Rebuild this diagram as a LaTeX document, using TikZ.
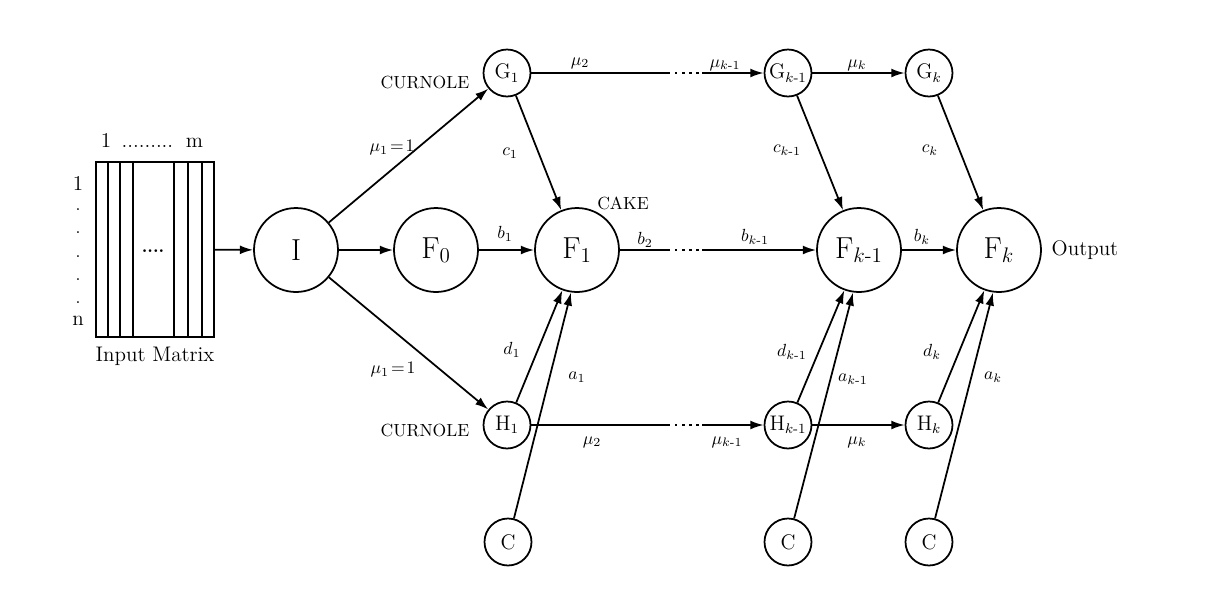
\documentclass[tikz,border=0pt]{standalone}
\usepackage{amsmath}
\usetikzlibrary{arrows.meta,positioning}

\begin{document}
\begin{tikzpicture}[x=0.02cm,y=-0.02cm,>={Latex[length=7.5pt,width=5pt]}]
\tikzstyle{every node}+=[inner sep=0pt]
\tikzstyle{big}=[draw,circle,line width=1pt,minimum size=1.68cm,font=\LARGE]
\tikzstyle{small}=[draw,circle,line width=1pt,minimum size=0.94cm,font=\large]
\tikzstyle{link}=[line width=1pt]
\tikzstyle{gap}=[line width=1.4pt,dash pattern=on 1.4pt off 2.6pt]
\useasboundingbox (0,0) rectangle (1225,593);
% input matrix
\node [draw,line width=1pt,minimum width=2.36cm,minimum height=3.5cm] (mat) at (155,249.5) {};
\foreach \x in {107.7,120,133.3,174.3,188.3,201.7}
  \draw [link] (\x,162) -- (\x,337);
\node (matdots) at (153,251) {\textbf{....}};
\node [font=\large] (colhead) at (152,140) {1 \,.........\, m};
\node [font=\large] (rowone) at (78,183) {1};
\foreach \y in {210,233,257,280,303}
  \node (rowdot\y) at (78,\y) {.};
\node [font=\large] (rown) at (78,321) {n};
\node [font=\large] (matlab) at (155,356) {Input Matrix};
% circles
\node [big] (I) at (296,250) {I};
\node [big] (F0) at (436,250) {F$_0$};
\node [big] (F1) at (577,250) {F$_1$};
\node [big] (Fk1) at (859,250) {F$_{k\text{-}1}$};
\node [big] (Fk) at (999,250) {F$_k$};
\node [small] (G1) at (507,73) {G$_1$};
\node [small] (Gk1) at (788,73) {G$_{k\text{-}1}$};
\node [small] (Gk) at (929,73) {G$_k$};
\node [small] (H1) at (507,425) {H$_1$};
\node [small] (Hk1) at (788,425) {H$_{k\text{-}1}$};
\node [small] (Hk) at (929,425) {H$_k$};
\node [small] (C1) at (508,542) {C};
\node [small] (Ck1) at (788,542) {C};
\node [small] (Ck) at (929,542) {C};
% dotted gaps
\coordinate (gl) at (668,73);
\coordinate (gr) at (702,73);
\coordinate (fl) at (668,250);
\coordinate (fr) at (702,250);
\coordinate (hl) at (668,425);
\coordinate (hr) at (702,425);
% connectors
\draw [link,->] (mat) -- (I);
\draw [link,->] (I) -- (G1);
\draw [link,->] (I) -- (F0);
\draw [link,->] (I) -- (H1);
\draw [link,->] (F0) -- (F1);
\draw [link,->] (G1) -- (F1);
\draw [link,->] (H1) -- (F1.250);
\draw [link,->] (C1) -- (F1.262);
\draw [link] (G1) -- (gl);
\draw [gap] (gl) -- (gr);
\draw [link,->] (gr) -- (Gk1);
\draw [link] (F1) -- (fl);
\draw [gap] (fl) -- (fr);
\draw [link,->] (fr) -- (Fk1);
\draw [link] (H1) -- (hl);
\draw [gap] (hl) -- (hr);
\draw [link,->] (hr) -- (Hk1);
\draw [link,->] (Gk1) -- (Gk);
\draw [link,->] (Fk1) -- (Fk);
\draw [link,->] (Hk1) -- (Hk);
\draw [link,->] (Gk1) -- (Fk1);
\draw [link,->] (Hk1) -- (Fk1.250);
\draw [link,->] (Ck1) -- (Fk1.262);
\draw [link,->] (Gk) -- (Fk);
\draw [link,->] (Hk) -- (Fk.250);
\draw [link,->] (Ck) -- (Fk.262);
% labels
\node (curtop) at (425,82) {CURNOLE};
\node (curbot) at (425,430) {CURNOLE};
\node (cake) at (623,203) {CAKE};
\node [font=\large] (output) at (1085,250) {Output};
\node (muup) at (392,148) {$\mu_1\!=\!1$};
\node (mulow) at (393,370) {$\mu_1\!=\!1$};
\node (cone) at (510,153) {$c_1$};
\node (bone) at (505,234) {$b_1$};
\node (btwo) at (645,240) {$b_2$};
\node (mutwotop) at (580,63) {$\mu_2$};
\node (mukonetop) at (725,65) {$\mu_{k\text{-}1}$};
\node (muktop) at (857,65) {$\mu_k$};
\node (ckone) at (787,150) {$c_{k\text{-}1}$};
\node (ck) at (930,150) {$c_k$};
\node (bkone) at (755,237) {$b_{k\text{-}1}$};
\node (bk) at (922,237) {$b_k$};
\node (done) at (512,350) {$d_1$};
\node (aone) at (577,377) {$a_1$};
\node (mutwobot) at (592,442) {$\mu_2$};
\node (mukonebot) at (727,442) {$\mu_{k\text{-}1}$};
\node (mukbot) at (857,442) {$\mu_k$};
\node (dkone) at (792,352) {$d_{k\text{-}1}$};
\node (akone) at (853,379) {$a_{k\text{-}1}$};
\node (dk) at (932,352) {$d_k$};
\node (ak) at (993,377) {$a_k$};
\end{tikzpicture}
\end{document}
